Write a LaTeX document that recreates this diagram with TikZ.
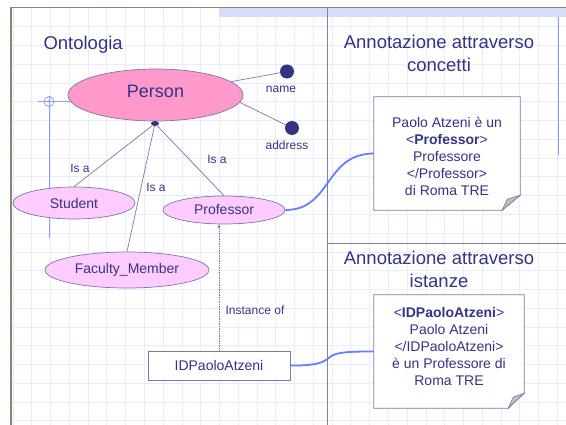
\documentclass[tikz,border=0pt]{standalone}
\usepackage{fontspec}
\setmainfont{Liberation Sans}
\usetikzlibrary{shapes.geometric,arrows.meta,calc}
\definecolor{txt}{RGB}{51,51,135}
\definecolor{edgec}{RGB}{120,120,170}
\definecolor{personfill}{RGB}{255,153,204}
\definecolor{lpink}{RGB}{255,204,255}
\definecolor{dotc}{RGB}{51,51,128}
\definecolor{curvec}{RGB}{100,128,255}
\definecolor{gridc}{RGB}{231,237,251}
\definecolor{framec}{RGB}{136,136,120}
\definecolor{bandc}{RGB}{212,222,246}
\definecolor{crossc}{RGB}{140,160,240}
\definecolor{divc}{RGB}{128,128,170}
\definecolor{foldc}{RGB}{192,192,192}
\begin{document}
\begin{tikzpicture}[x=1pt,y=-1pt,
  gridline/.style={gridc,line width=0.6pt},
  edge/.style={edgec,line width=0.7pt},
  fsbig/.style={font=\fontsize{18.5}{23}\selectfont},
  fsmid/.style={font=\fontsize{14}{17}\selectfont},
  fssmall/.style={font=\fontsize{12}{14}\selectfont},
  classnode/.style={ellipse,draw=edgec,line width=0.7pt,fill=lpink,inner sep=0pt,text=txt,fsmid},
  attrdot/.style={circle,fill=dotc,minimum size=14pt,inner sep=0pt},
  lbl/.style={text=txt,fssmall,inner sep=1pt},
  title/.style={text=txt,fsbig,align=center},
  notebox/.style={rectangle,inner sep=0pt},
  notetext/.style={text=txt,fsmid,align=center},
  link/.style={curvec,line width=1.8pt},
]
\useasboundingbox (0,0) rectangle (566,425);
\fill[white] (0,0) rectangle (566,425);
% grid
\foreach \i in {0,...,29} \draw[gridline] ({12.9+18.77*\i},7) -- ({12.9+18.77*\i},425);
\foreach \j in {0,...,22} \draw[gridline] (11,{7.8+18.77*\j}) -- (566,{7.8+18.77*\j});
% frame
\fill[bandc] (219,7.5) rectangle (566,17);
\draw[framec,line width=0.8pt] (11,7) -- (566,7);
\draw[framec,line width=2pt] (11,7) -- (11,425);
\draw[divc,line width=0.8pt] (327,7) -- (327,425);
\draw[divc,line width=0.8pt] (327,243) -- (566,243);
\draw[crossc,line width=0.8pt] (558,17) -- (558,155);
% crosshair
\draw[crossc,line width=0.8pt] (38,101.5) -- (70,101.5);
\draw[crossc,line width=0.8pt] (49,96) -- (49,238);
\draw[crossc,line width=0.8pt] (49,101.5) circle[radius=5];
% titles
\node[text=txt,fsbig,anchor=west] (ont) at (40,45) {Ontologia};
\node[title] (t1) at (439,53.5) {Annotazione attraverso\\concetti};
\node[title] (t2) at (439,269.5) {Annotazione attraverso\\istanze};
% ontology
\node[ellipse,draw=edgec,line width=0.7pt,fill=personfill,minimum width=175pt,minimum height=52pt,inner sep=0pt] (person) at (155.5,95) {};
\node[text=txt,font=\fontsize{18}{21}\selectfont,inner sep=0pt] (persont) at (155.5,91.5) {Person};
\node[attrdot] (namedot) at (287,71.5) {};
\node[attrdot] (addrdot) at (292,128) {};
\node[lbl] (namel) at (281,89) {name};
\node[lbl] (addrl) at (287,145) {address};
\draw[edge] (person.10) -- (namedot);
\draw[edge] (person.-5) -- (addrdot);
\node[ellipse,fill=dotc,minimum width=8pt,minimum height=5pt,inner sep=0pt] (hub) at (155,123.5) {};
\node[classnode,minimum width=122pt,minimum height=32pt] (stud) at (74,203) {Student};
\node[classnode,minimum width=122pt,minimum height=28pt] (prof) at (224,210) {Professor};
\node[classnode,minimum width=164pt,minimum height=36pt] (fac) at (127,270) {Faculty\_Member};
\draw[edge] (hub) -- (stud.north);
\draw[edge] (hub) -- (fac.north);
\draw[edge] (hub) -- (prof.north);
\node[lbl] (isa1) at (80,168) {Is a};
\node[lbl] (isa2) at (156,187) {Is a};
\node[lbl] (isa3) at (217,159) {Is a};
% instance
\node[rectangle,draw=edgec,line width=0.8pt,fill=white,minimum width=142pt,minimum height=29pt,inner sep=0pt,text=txt,fsmid] (idpa) at (219,365.5) {IDPaoloAtzeni};
\draw[edgec,line width=0.7pt,densely dotted,-{Stealth[length=4pt,width=3pt]}] (idpa.north) -- (idpa.north |- prof.south);
\node[lbl,fill=white,inner sep=2pt] (inst) at (255,310) {Instance of};
% note boxes
\node[notebox,minimum width=146pt,minimum height=113pt] (box1) at (447,153.5) {};
\node[notebox,minimum width=150pt,minimum height=113pt] (box2) at (449,351.5) {};
\foreach \b/\fx/\fy in {box1/18/15,box2/16/15}{
  \draw[edgec,line width=0.8pt,fill=white] (\b.north west) -- (\b.north east) -- ($(\b.south east)+(0,-\fy)$) -- ($(\b.south east)+(-\fx,0)$) -- (\b.south west) -- cycle;
  \draw[edgec,line width=0.6pt,fill=foldc] ($(\b.south east)+(-\fx,0)$) .. controls ($(\b.south east)+(-\fx+3,-6)$) .. ($(\b.south east)+(-\fx+5,-11)$) -- ($(\b.south east)+(0,-\fy)$) -- cycle;
}
\node[notetext] (n1) at (447,156.5) {Paolo Atzeni è un\\<\textbf{Professor}>\\Professore\\</Professor>\\di Roma TRE};
\node[notetext] (n2) at (449,346) {<\textbf{IDPaoloAtzeni}>\\Paolo Atzeni\\</IDPaoloAtzeni>\\è un Professore di\\Roma TRE};
% links
\draw[link] (prof.east) .. controls (332,210) and (324,154) .. (box1.west);
\draw[link] (idpa.east) .. controls (322,366) and (326,360) .. (330,357) .. controls (336,352) and (350,351.5) .. (box2.west);
\end{tikzpicture}
\end{document}
